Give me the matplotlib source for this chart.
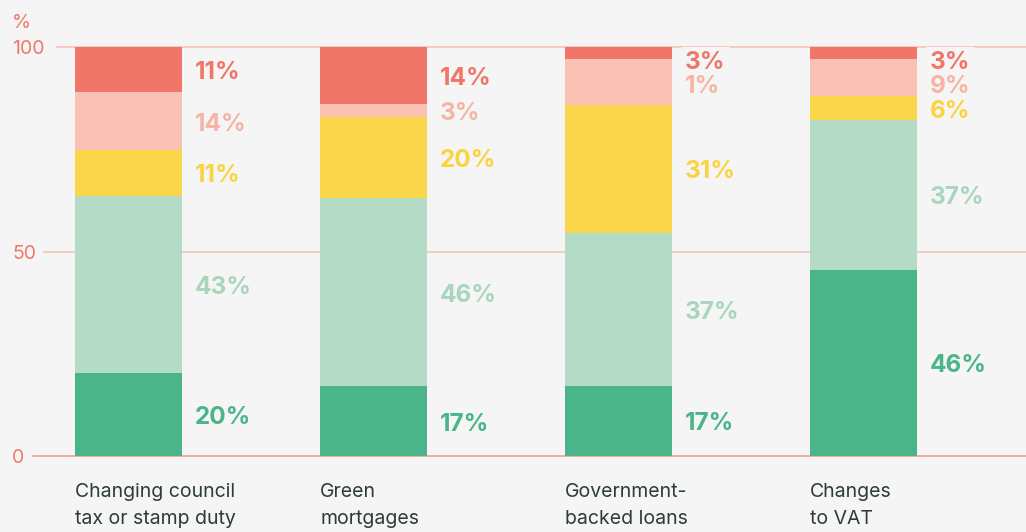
"""Stacked bar chart: support for green finance policy options."""

import matplotlib.pyplot as plt
import numpy as np

plt.rcParams["font.family"] = ["Inter", "DejaVu Sans"]

CATEGORIES = [
    "Changing council\ntax or stamp duty",
    "Green\nmortgages",
    "Government-\nbacked loans",
    "Changes\nto VAT",
]

# segment values, bottom to top
STRONG_SUPPORT = [20, 17, 17, 46]
SUPPORT = [43, 46, 37, 37]
NEUTRAL = [11, 20, 31, 6]
OPPOSE = [14, 3, 11, 9]
STRONG_OPPOSE = [11, 14, 3, 3]

# labels as printed on the chart
LABELS = [
    ["20%", "43%", "11%", "14%", "11%"],
    ["17%", "46%", "20%", "3%", "14%"],
    ["17%", "37%", "31%", "1%", "3%"],
    ["46%", "37%", "6%", "9%", "3%"],
]

Y_TICKS = [0, 50, 100]

BG = "#f4f5f4"
COLORS = ["#4bb489", "#b4dbc6", "#fad74a", "#f8c1b3", "#ef7668"]
LABEL_COLORS = ["#4bb489", "#aad5bd", "#f9d440", "#f6b4a4", "#ef7668"]
AXIS_COLOR = "#f07a6a"
GRID_COLOR = "#f6c3b8"
ZERO_COLOR = "#f2a090"
TEXT_COLOR = "#2e3b3c"

values = np.array([STRONG_SUPPORT, SUPPORT, NEUTRAL, OPPOSE, STRONG_OPPOSE], dtype=float)
# each bar is scaled to fill the 0-100 range
shares = values / values.sum(axis=0) * 100

fig = plt.figure(figsize=(10.26, 5.32), dpi=100, facecolor=BG)
ax = fig.add_axes([0, 76 / 532, 1, 409 / 532])
ax.set_facecolor(BG)

step = 245
ax.set_xlim(-75 / step, 951 / step)
ax.set_ylim(0, 100)
ax.axis("off")

x = np.arange(len(CATEGORIES))
width = 107 / step

# gridlines start just right of their tick labels
grid_starts = {0: 33, 50: 44, 100: 57}
for tick in Y_TICKS:
    ax.axhline(
        tick,
        xmin=grid_starts[tick] / 1026,
        xmax=1,
        color=ZERO_COLOR if tick == 0 else GRID_COLOR,
        linewidth=1.2,
        zorder=1,
        clip_on=False,
    )
    ax.text(
        12 / 1026, tick - 0.6, str(tick),
        transform=ax.get_yaxis_transform(),
        ha="left", va="center",
        fontsize=14, color=AXIS_COLOR,
    )

ax.text(
    12 / 1026, 105.8, "%",
    transform=ax.get_yaxis_transform(),
    ha="left", va="center",
    fontsize=14, color=AXIS_COLOR,
)

bottom = np.zeros(len(CATEGORIES))
for row, color in zip(shares, COLORS):
    ax.bar(x, row, width, bottom=bottom, align="edge", color=color, zorder=2)
    bottom += row

# label positions: segment centres, pushed down so they don't collide
centres = np.cumsum(shares, axis=0) - shares / 2
for i in range(len(CATEGORIES)):
    positions = []
    previous = 97 + 6
    for j in reversed(range(len(COLORS))):
        y = min(centres[j, i], previous - 6)
        positions.append((j, y - 0.7))
        previous = y

    label_x = x[i] + width + 13 / step
    for j, y in positions:
        # background patch that breaks the gridline behind the label
        ax.text(
            label_x, y, LABELS[i][j],
            ha="left", va="center",
            fontsize=17.5, fontweight="bold", color=BG,
            bbox=dict(facecolor=BG, edgecolor="none", pad=3),
            zorder=3,
        )
    for j, y in positions:
        ax.text(
            label_x, y, LABELS[i][j],
            ha="left", va="center",
            fontsize=17.5, fontweight="bold", color=LABEL_COLORS[j],
            zorder=4,
        )

    ax.text(
        x[i], -6.6, CATEGORIES[i],
        ha="left", va="top",
        fontsize=14, color=TEXT_COLOR,
        linespacing=1.62,
    )

fig.savefig("out.png", dpi=100, facecolor=BG)
plt.close(fig)
